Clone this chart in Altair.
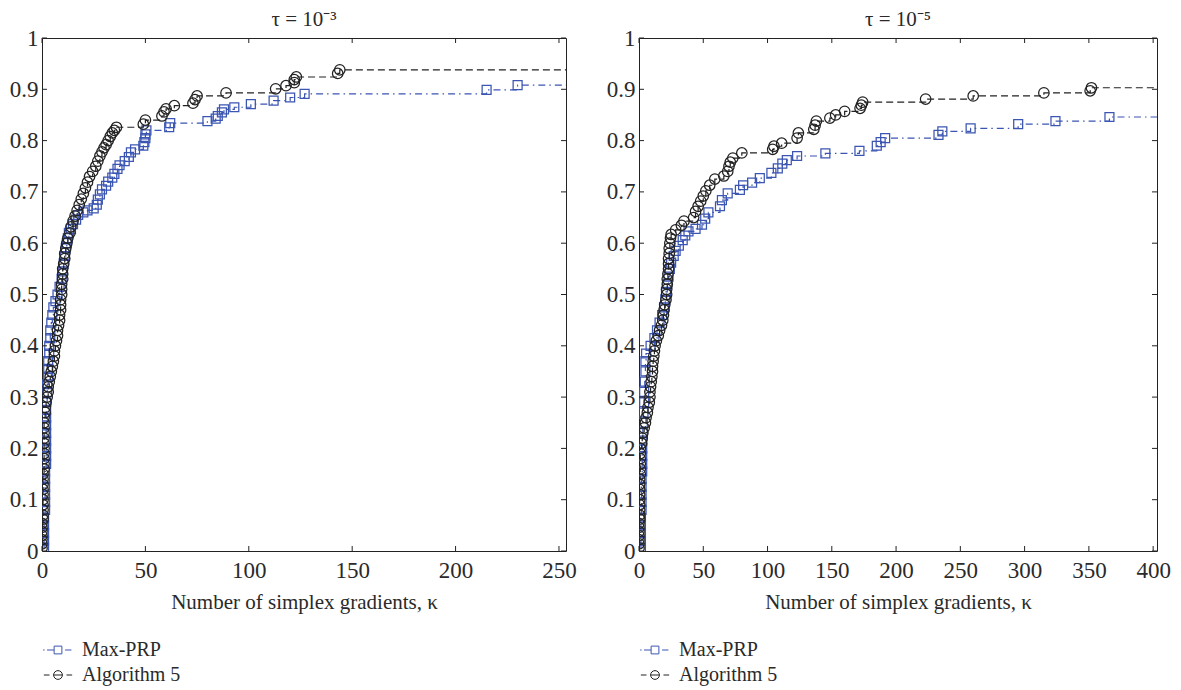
import altair as alt
import pandas as pd

FONT = "Liberation Serif"
BLUE = "#3b55b2"
BLACK = "#222222"
TXT = "#2a2a2a"

# ---------------- data (k = number of simplex gradients, v = fraction) ----------------
# Left panel: tau = 1e-3
maxprp_left = [(1,0.006),(1,0.02),(1,0.035),(1,0.05),(1,0.065),(1.5,0.08),(1.5,0.095),(1.5,0.11),(1.5,0.125),
    (1.5,0.14),(1.5,0.155),(2,0.17),(2,0.185),(2,0.2),(2,0.215),(2,0.23),(2,0.245),(2,0.26),(2,0.275),(2,0.29),
    (2.5,0.31),(2.5,0.325),(3,0.34),(3,0.355),(3,0.37),(3.5,0.385),(3.5,0.4),(4,0.415),(4,0.43),(4.5,0.445),
    (5,0.46),(5.5,0.475),(6.5,0.487),(7.5,0.5),(8.5,0.515),(9.5,0.53),(10,0.545),(10.5,0.56),(11,0.575),
    (11.5,0.59),(12,0.6),(12.5,0.61),(13,0.62),(14,0.628),(15,0.637),(16.5,0.646),(17.5,0.655),(20,0.66),
    (22,0.664),(25,0.668),(26.5,0.675),(27,0.685),(28,0.695),(29,0.705),(31,0.712),(32,0.72),(34,0.728),
    (35,0.735),(36.5,0.745),(37.5,0.752),(40,0.76),(42,0.768),(43,0.777),(45,0.783),(49,0.79),(49.5,0.797),
    (50,0.805),(50,0.812),(50.5,0.82),(61.5,0.826),(62,0.834),(80,0.838),(84,0.843),(85,0.848),(87,0.855),
    (88,0.861),(93,0.865),(101,0.871),(112,0.878),(120,0.884),(127,0.891),(215,0.899),(230,0.908)]
alg5_left = [(0,0.006),(0,0.014),(0,0.022),(0,0.03),(0,0.038),(0,0.046),(0,0.054),(0.5,0.062),(0.5,0.07),
    (0.5,0.08),(0.5,0.09),(0.5,0.1),(0.5,0.11),(0.5,0.12),(0.5,0.13),(0.5,0.14),(0.5,0.15),(1,0.16),(1,0.17),
    (1,0.18),(1,0.19),(1,0.2),(1,0.21),(1,0.22),(1,0.23),(1,0.24),(1,0.25),(1,0.26),(1.5,0.27),(1.5,0.28),
    (2,0.29),(2.5,0.3),(3,0.31),(3,0.32),(3.5,0.33),(4,0.34),(4.5,0.35),(5,0.36),(5.5,0.37),(6,0.38),(6,0.39),
    (6.5,0.4),(7,0.41),(7.5,0.42),(7.5,0.43),(8,0.44),(8.5,0.45),(8.5,0.46),(9,0.47),(9,0.48),(9,0.49),
    (9.5,0.5),(9.5,0.51),(9.5,0.52),(10,0.53),(10,0.54),(10,0.55),(10.5,0.56),(11,0.57),(11,0.58),(11.5,0.59),
    (12,0.6),(12.5,0.61),(13.5,0.62),(14,0.632),(15,0.643),(16,0.653),(17,0.664),(18,0.675),(19,0.686),
    (20,0.697),(21,0.708),(22,0.719),(23,0.73),(24.5,0.74),(26,0.75),(27,0.76),(28,0.77),(29,0.778),
    (30,0.786),(31,0.792),(32,0.8),(33,0.808),(34,0.815),(35,0.82),(36,0.826),
    (49,0.832),(50,0.84),(58,0.848),(59,0.856),(60,0.862),(64,0.868),(73,0.873),(74,0.88),(75,0.887),
    (89,0.893),(113,0.901),(118,0.907),(122,0.913),(122,0.919),(123,0.924),(143,0.931),(144,0.938)]

# Right panel: tau = 1e-5
maxprp_right = [(1.5,0.006),(1.5,0.02),(1.5,0.035),(1.5,0.05),(1.5,0.065),(2,0.08),(2,0.095),(2,0.11),(2,0.125),
    (2,0.14),(2.5,0.155),(2.5,0.17),(2.5,0.185),(2.5,0.2),(2.5,0.215),(3,0.23),(3,0.25),(3.5,0.27),(4,0.29),
    (4,0.31),(4.5,0.33),(5,0.35),(5,0.37),(5.5,0.385),(9,0.4),(12,0.415),(14,0.43),(16,0.445),(18,0.46),
    (19.5,0.475),(20.5,0.49),(21,0.505),(22,0.52),(23,0.535),(24,0.55),(25,0.562),(27,0.575),(28.5,0.585),
    (31,0.595),(34,0.606),(36,0.615),(38.5,0.623),(44,0.628),(49,0.636),(51.5,0.648),(54,0.66),(63,0.672),
    (64.5,0.684),(69,0.697),(78.5,0.704),(81,0.713),(88,0.718),(94,0.727),(103,0.737),(108,0.746),
    (111.5,0.755),(115,0.762),(123,0.77),(145,0.775),(171.5,0.78),(185,0.79),(188,0.797),(191.5,0.805),
    (233,0.811),(236,0.818),(258,0.824),(295,0.832),(324,0.838),(366,0.846)]
alg5_right = [(0,0.006),(0,0.014),(0,0.022),(0,0.03),(0,0.038),(0,0.046),(0,0.054),(0.5,0.062),(0.5,0.07),
    (0.5,0.08),(0.5,0.09),(0.5,0.1),(0.5,0.11),(0.5,0.12),(0.5,0.13),(0.5,0.14),(1,0.15),(1,0.16),(1,0.17),
    (1,0.18),(1,0.19),(1,0.2),(2,0.21),(2.5,0.22),(3,0.23),(4,0.24),(5,0.25),(5.5,0.26),(6.5,0.27),(7,0.28),
    (8,0.29),(8.5,0.3),(8.5,0.31),(9,0.32),(9.5,0.33),(10,0.34),(10.5,0.35),(10.5,0.36),(11,0.37),(11.5,0.38),
    (12,0.39),(12.5,0.4),(13.5,0.41),(15,0.42),(16,0.43),(17.5,0.44),(18.5,0.45),(19,0.46),(19.5,0.47),
    (20,0.48),(21,0.49),(21.5,0.5),(21.5,0.51),(22,0.52),(22,0.53),(22.5,0.54),(23,0.55),(23,0.56),
    (23,0.57),(23.5,0.58),(23.5,0.59),(24,0.6),(24.5,0.61),(25,0.617),(28.5,0.626),(33,0.635),(35,0.643),
    (42.5,0.65),(44,0.662),(46,0.672),(48,0.682),(50,0.692),(52,0.702),(55,0.713),(59,0.725),(66,0.731),
    (69,0.74),(70,0.75),(71,0.758),(73,0.766),(80,0.776),(104,0.783),(105,0.789),(111,0.795),(123,0.805),
    (124,0.815),(136,0.822),(137,0.83),(138,0.838),(148.5,0.844),(153,0.85),(160,0.857),(172,0.863),
    (173,0.869),(174,0.875),(223,0.881),(260,0.887),(315,0.893),(351,0.897),(352,0.903)]

x_max_left = 253.4
x_max_right = 403
x_ticks_left = [0, 50, 100, 150, 200, 250]
x_ticks_right = [0, 50, 100, 150, 200, 250, 300, 350, 400]
y_ticks = [0, 0.1, 0.2, 0.3, 0.4, 0.5, 0.6, 0.7, 0.8, 0.9, 1.0]
series_names = ["Max-PRP", "Algorithm 5"]
titles = ["τ = 10⁻³", "τ = 10⁻⁵"]
x_title = "Number of simplex gradients, κ"

# legend glyphs (line + marker), unit coordinates
SYM_MAXPRP = "M-2.1,0H-1.9M-1.55,0H-0.55M-0.55,-0.55H0.55V0.55H-0.55ZM1,0H1.9"
SYM_ALG5 = "M-2,0H-1.2M0.62,0A0.62,0.62 0 1,1 -0.62,0A0.62,0.62 0 1,1 0.62,0M-0.62,0H0.62M1.2,0H2"

H = 513
FS_TICK = 23
FS_TEXT = 21


def build_df(pts_a, pts_b, xmax):
    rows = []
    i = 0
    for name, pts in [("Max-PRP", pts_a), ("Algorithm 5", pts_b)]:
        for k, v in pts:
            rows.append({"series": name, "k": k, "v": v, "m": 1, "i": i})
            i += 1
        rows.append({"series": name, "k": xmax, "v": pts[-1][1], "m": 0, "i": i})
        i += 1
    return pd.DataFrame(rows)


def panel(df, xmax, xticks, title, W):
    xs = alt.Scale(domain=[0, xmax], nice=False, zero=False)
    ys = alt.Scale(domain=[0, 1], nice=False)
    xax = alt.Axis(values=xticks, ticks=False, domain=False, grid=False, labelFont=FONT,
                   labelFontSize=FS_TICK, labelColor=TXT, labelPadding=8, title=x_title,
                   titleFont=FONT, titleFontSize=FS_TEXT, titleFontWeight="normal", titleColor=TXT,
                   titlePadding=9, labelFlush=False)
    yax = alt.Axis(values=y_ticks, format="~g", ticks=False, domain=False, grid=False,
                   labelFont=FONT, labelFontSize=FS_TICK, labelColor=TXT, labelPadding=4, title=None)
    X = alt.X("k:Q", scale=xs, axis=xax)
    Y = alt.Y("v:Q", scale=ys, axis=yax)
    base = alt.Chart(df)
    layers = []
    styles = [("Max-PRP", BLUE, [7, 4, 1.5, 4], "square", 80),
              ("Algorithm 5", BLACK, [7, 4], "circle", 110)]
    for name, col, dash, shape, size in styles:
        sub = base.transform_filter(alt.datum.series == name)
        layers.append(sub.mark_line(color=col, strokeDash=dash, strokeWidth=1.2,
                                    interpolate="step-after", clip=True)
                      .encode(x=X, y=Y, order="i:Q"))
        layers.append(sub.transform_filter(alt.datum.m == 1)
                      .mark_point(shape=shape, color=col, filled=False, size=size,
                                  strokeWidth=1.25, opacity=1, clip=True)
                      .encode(x=X, y=Y))
    # ticks (inward, on all four sides)
    xt = alt.Chart(pd.DataFrame({"t": xticks}))
    yt = alt.Chart(pd.DataFrame({"t": y_ticks}))
    XT = alt.X("t:Q", scale=xs, axis=xax)
    YT = alt.Y("t:Q", scale=ys, axis=yax)
    layers.append(xt.mark_rule(color=BLACK, strokeWidth=1).encode(x=XT, y=alt.value(H), y2=alt.value(H - 5)))
    layers.append(xt.mark_rule(color=BLACK, strokeWidth=1).encode(x=XT, y=alt.value(0), y2=alt.value(5)))
    layers.append(yt.mark_rule(color=BLACK, strokeWidth=1).encode(y=YT, x=alt.value(0), x2=alt.value(5)))
    layers.append(yt.mark_rule(color=BLACK, strokeWidth=1).encode(y=YT, x=alt.value(W - 5), x2=alt.value(W)))
    # legend carrier
    leg = alt.Legend(title=None, orient="none", legendX=6, legendY=602, direction="vertical",
                     symbolSize=200, symbolStrokeWidth=1, labelFont=FONT, labelFontSize=20,
                     labelColor=TXT, labelOffset=14, rowPadding=5, padding=0, symbolOpacity=1)
    layers.append(base.transform_filter("false").mark_point(filled=False, strokeWidth=1)
                  .encode(x=X, y=Y,
                          color=alt.Color("series:N", scale=alt.Scale(domain=series_names, range=[BLUE, BLACK]), legend=leg),
                          shape=alt.Shape("series:N", scale=alt.Scale(domain=series_names, range=[SYM_MAXPRP, SYM_ALG5]), legend=leg)))
    return alt.layer(*layers).properties(
        width=W, height=H,
        title=alt.TitleParams(text=title, font=FONT, fontSize=21, fontWeight="normal",
                              color=TXT, anchor="middle", offset=-3))


left = panel(build_df(maxprp_left, alg5_left, x_max_left), x_max_left, x_ticks_left, titles[0], 524)
right = panel(build_df(maxprp_right, alg5_right, x_max_right), x_max_right, x_ticks_right, titles[1], 518)

chart = alt.hconcat(left, right, spacing=73, bounds="flush").resolve_scale(
    x="independent", y="independent", color="independent", shape="independent"
).properties(
    padding={"left": 0, "top": 0, "right": 0, "bottom": 0},
    background="white",
).configure_view(stroke=BLACK, strokeWidth=1)

chart.save("out.html", embed_options={"renderer": "svg", "actions": False})
